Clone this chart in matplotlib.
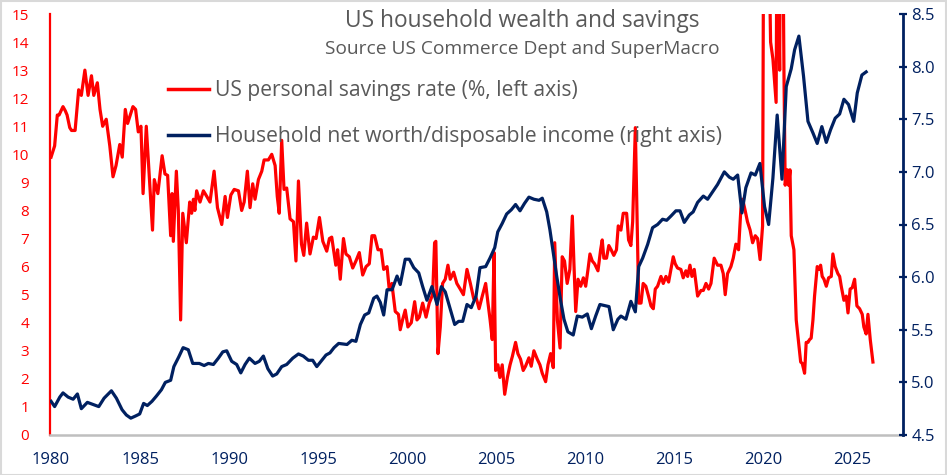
import numpy as np
import matplotlib
matplotlib.use("Agg")
import matplotlib.pyplot as plt
from matplotlib.lines import Line2D
from matplotlib.patches import Rectangle
from matplotlib.ticker import FormatStrFormatter

plt.rcParams['font.family'] = ['Open Sans', 'DejaVu Sans']

# US personal savings rate (%) (decimal years)
savings_years = [
    1980.00, 1980.20, 1980.35, 1980.45, 1980.67, 1980.80, 1980.90, 1981.05, 1981.15, 1981.35,
    1981.55, 1981.70, 1981.90, 1982.08, 1982.27, 1982.40, 1982.60, 1982.75, 1982.90, 1983.10,
    1983.30, 1983.48, 1983.65, 1983.86, 1984.00, 1984.17, 1984.30, 1984.60, 1984.75, 1984.90,
    1985.05, 1985.17, 1985.35, 1985.70, 1985.80, 1986.00, 1986.24, 1986.40, 1986.55, 1986.72,
    1986.80, 1986.87, 1987.04, 1987.15, 1987.28, 1987.40, 1987.60, 1987.79, 1987.90, 1988.00,
    1988.08, 1988.18, 1988.37, 1988.56, 1988.75, 1988.93, 1989.16, 1989.35, 1989.59, 1989.78,
    1989.91, 1990.10, 1990.29, 1990.53, 1990.71, 1990.85, 1991.03, 1991.18, 1991.33, 1991.46,
    1991.65, 1991.84, 1991.97, 1992.21, 1992.40, 1992.59, 1992.71, 1992.82, 1992.96, 1993.09,
    1993.24, 1993.43, 1993.62, 1993.76, 1993.90, 1994.07, 1994.20, 1994.36, 1994.55, 1994.74,
    1994.89, 1995.08, 1995.27, 1995.49, 1995.64, 1995.77, 1996.00, 1996.10, 1996.25, 1996.43,
    1996.57, 1996.76, 1996.95, 1997.13, 1997.32, 1997.51, 1997.70, 1997.88, 1998.03, 1998.18,
    1998.37, 1998.55, 1998.69, 1998.88, 1999.00, 1999.15, 1999.34, 1999.52, 1999.62, 1999.75,
    1999.90, 2000.05, 2000.24, 2000.43, 2000.56, 2000.69, 2000.88, 2001.07, 2001.25, 2001.44,
    2001.55, 2001.62, 2001.74, 2001.87, 2002.00, 2002.15, 2002.30, 2002.43, 2002.62, 2002.80,
    2002.99, 2003.17, 2003.37, 2003.56, 2003.75, 2003.88, 2004.05, 2004.23, 2004.42, 2004.55,
    2004.67, 2004.79, 2004.89, 2004.98, 2005.11, 2005.22, 2005.35, 2005.49, 2005.64, 2005.79,
    2005.92, 2006.10, 2006.23, 2006.38, 2006.53, 2006.66, 2006.85, 2006.98, 2007.13, 2007.32,
    2007.47, 2007.60, 2007.79, 2007.92, 2008.07, 2008.22, 2008.30, 2008.45, 2008.60, 2008.72,
    2008.85, 2009.00, 2009.15, 2009.29, 2009.38, 2009.48, 2009.61, 2009.76, 2009.91, 2010.04,
    2010.17, 2010.28, 2010.41, 2010.54, 2010.73, 2010.88, 2010.97, 2011.06, 2011.21, 2011.34,
    2011.47, 2011.62, 2011.77, 2011.87, 2012.02, 2012.15, 2012.34, 2012.45, 2012.58, 2012.68,
    2012.83, 2012.92, 2013.02, 2013.15, 2013.27, 2013.42, 2013.57, 2013.71, 2013.84, 2013.95,
    2014.08, 2014.27, 2014.40, 2014.55, 2014.70, 2014.83, 2014.96, 2015.07, 2015.20, 2015.39,
    2015.52, 2015.67, 2015.77, 2015.90, 2016.01, 2016.14, 2016.24, 2016.33, 2016.52, 2016.65,
    2016.80, 2016.95, 2017.08, 2017.26, 2017.45, 2017.64, 2017.77, 2017.88, 2018.01, 2018.20,
    2018.33, 2018.48, 2018.63, 2018.76, 2018.86, 2019.00, 2019.13, 2019.28, 2019.42, 2019.57,
    2019.70, 2019.84, 2019.98, 2020.11, 2020.20, 2020.30, 2020.38, 2020.43, 2020.56, 2020.74,
    2020.80, 2020.94, 2021.03, 2021.18, 2021.25, 2021.37, 2021.44, 2021.52, 2021.59, 2021.74,
    2021.87, 2022.00, 2022.12, 2022.21, 2022.34, 2022.43, 2022.53, 2022.62, 2022.71, 2022.81,
    2022.90, 2023.05, 2023.15, 2023.24, 2023.33, 2023.43, 2023.56, 2023.69, 2023.84, 2023.93,
    2024.06, 2024.21, 2024.31, 2024.40, 2024.55, 2024.68, 2024.78, 2024.90, 2025.02, 2025.15,
    2025.28, 2025.43, 2025.58, 2025.67, 2025.80, 2025.90, 2026.03, 2026.18,
]
savings_rate = [
    9.9, 10.3, 11.4, 11.4, 11.7, 11.55, 11.4, 10.95, 10.85, 10.85,
    12.3, 12.1, 13.0, 12.1, 12.8, 12.1, 12.55, 11.6, 11.0, 11.25,
    10.3, 9.2, 9.6, 10.35, 9.9, 11.6, 11.1, 11.7, 11.6, 10.8,
    11.0, 8.6, 11.0, 7.3, 9.1, 8.6, 9.95, 9.3, 9.25, 7.1,
    8.6, 6.9, 9.4, 8.0, 4.1, 7.9, 6.85, 8.3, 7.9, 8.4,
    8.0, 8.7, 8.3, 8.7, 8.5, 8.3, 9.4, 8.1, 7.5, 8.5,
    7.75, 8.55, 8.75, 8.7, 8.0, 8.3, 9.4, 8.1, 8.95, 8.4,
    9.1, 9.4, 9.8, 9.8, 10.0, 9.6, 8.5, 7.9, 10.5, 8.75,
    8.8, 7.7, 7.6, 6.2, 9.05, 6.8, 6.4, 7.55, 6.45, 7.05,
    7.0, 7.75, 6.9, 6.55, 7.0, 7.05, 6.05, 6.6, 5.55, 7.0,
    6.45, 6.35, 5.95, 6.2, 6.5, 5.7, 6.0, 6.1, 7.1, 7.1,
    6.6, 6.6, 5.9, 6.0, 5.2, 5.4, 4.4, 4.3, 3.75, 4.1,
    4.45, 3.85, 4.0, 4.75, 4.1, 4.2, 4.7, 4.2, 4.7, 5.0,
    6.85, 6.9, 2.9, 3.85, 5.4, 5.55, 6.05, 5.55, 5.8, 5.4,
    5.2, 5.0, 5.9, 5.4, 4.85, 4.9, 4.5, 4.95, 5.4, 4.7,
    4.1, 3.4, 6.5, 2.3, 2.5, 2.05, 2.5, 1.45, 2.05, 2.5,
    2.8, 3.3, 2.9, 2.7, 2.3, 2.45, 2.75, 2.45, 3.0, 2.7,
    2.5, 2.2, 1.9, 2.5, 2.9, 2.4, 6.85, 4.1, 3.1, 6.35,
    6.2, 5.4, 5.9, 7.8, 6.1, 4.4, 5.55, 5.3, 5.6, 5.3,
    5.9, 6.45, 6.2, 6.1, 5.85, 6.6, 6.95, 6.3, 6.3, 6.75,
    6.6, 6.4, 6.6, 7.45, 7.3, 7.9, 7.9, 6.95, 6.75, 7.6,
    10.95, 8.0, 4.7, 4.7, 5.4, 5.3, 4.95, 4.6, 4.5, 5.2,
    5.3, 5.65, 5.4, 5.65, 5.45, 5.9, 6.35, 6.1, 5.95, 5.9,
    5.6, 5.85, 5.65, 6.05, 5.65, 5.9, 5.4, 4.95, 5.15, 5.15,
    5.4, 5.2, 5.4, 6.3, 6.05, 6.05, 5.75, 5.0, 5.75, 6.0,
    6.3, 6.8, 6.6, 8.05, 8.4, 8.0, 7.6, 7.3, 6.85, 7.1,
    7.0, 6.25, 7.45, 32.0, 24.0, 18.0, 16.0, 14.0, 13.4, 11.85,
    19.5, 13.0, 26.0, 13.0, 8.9, 9.45, 8.9, 9.45, 7.1, 6.6,
    4.1, 3.3, 2.6, 2.55, 2.2, 3.3, 3.3, 3.4, 3.45, 4.1,
    4.95, 6.0, 5.9, 6.05, 5.65, 5.55, 5.3, 5.6, 5.65, 6.45,
    6.0, 5.75, 5.65, 5.3, 4.8, 4.95, 4.35, 5.2, 5.25, 5.55,
    4.6, 4.5, 4.3, 3.85, 3.6, 4.3, 3.4, 2.6,
]

# Household net worth / disposable income (right axis)
wealth_years = [
    1980.00, 1980.20, 1980.49, 1980.67, 1980.96, 1981.24, 1981.48, 1981.70, 1982.04, 1982.36,
    1982.68, 1982.98, 1983.39, 1983.67, 1983.99, 1984.23, 1984.48, 1984.74, 1984.98, 1985.20,
    1985.41, 1985.67, 1985.92, 1986.20, 1986.42, 1986.72, 1986.90, 1987.17, 1987.42, 1987.71,
    1987.96, 1988.33, 1988.60, 1988.84, 1989.12, 1989.40, 1989.65, 1989.87, 1990.15, 1990.43,
    1990.66, 1990.90, 1991.14, 1991.46, 1991.70, 1991.93, 1992.18, 1992.45, 1992.68, 1992.96,
    1993.24, 1993.58, 1993.90, 1994.17, 1994.46, 1994.70, 1994.93, 1995.21, 1995.45, 1995.67,
    1995.90, 1996.16, 1996.63, 1996.90, 1997.13, 1997.38, 1997.62, 1997.85, 1998.13, 1998.31,
    1998.50, 1998.69, 1998.88, 1999.16, 1999.44, 1999.62, 1999.90, 2000.13, 2000.38, 2000.66,
    2000.88, 2001.12, 2001.40, 2001.69, 2001.93, 2002.15, 2002.44, 2002.68, 2002.90, 2003.13,
    2003.37, 2003.61, 2003.88, 2004.10, 2004.42, 2004.66, 2004.93, 2005.10, 2005.35, 2005.60,
    2005.86, 2006.10, 2006.35, 2006.60, 2006.85, 2007.13, 2007.42, 2007.60, 2007.85, 2008.03,
    2008.22, 2008.41, 2008.63, 2008.82, 2009.04, 2009.34, 2009.57, 2009.85, 2010.13, 2010.36,
    2010.60, 2010.84, 2011.10, 2011.35, 2011.59, 2011.85, 2012.02, 2012.30, 2012.58, 2012.83,
    2013.02, 2013.24, 2013.52, 2013.80, 2014.08, 2014.36, 2014.59, 2014.83, 2015.11, 2015.34,
    2015.58, 2015.86, 2016.08, 2016.33, 2016.65, 2016.89, 2017.17, 2017.45, 2017.83, 2018.11,
    2018.33, 2018.58, 2018.82, 2019.04, 2019.33, 2019.57, 2019.83, 2020.09, 2020.32, 2020.56,
    2020.80, 2021.07, 2021.31, 2021.59, 2021.78, 2022.02, 2022.28, 2022.53, 2022.81, 2023.05,
    2023.31, 2023.56, 2023.80, 2024.06, 2024.31, 2024.55, 2024.81, 2025.10, 2025.30, 2025.56,
    2025.80,
]
wealth_ratio = [
    4.82, 4.77, 4.86, 4.90, 4.86, 4.84, 4.89, 4.75, 4.81, 4.79,
    4.77, 4.85, 4.92, 4.85, 4.74, 4.69, 4.66, 4.68, 4.70, 4.80,
    4.78, 4.82, 4.87, 4.93, 5.00, 5.02, 5.15, 5.24, 5.33, 5.31,
    5.18, 5.18, 5.16, 5.18, 5.17, 5.23, 5.29, 5.30, 5.20, 5.17,
    5.09, 5.17, 5.23, 5.18, 5.20, 5.25, 5.13, 5.06, 5.08, 5.15,
    5.17, 5.23, 5.27, 5.25, 5.21, 5.21, 5.15, 5.21, 5.26, 5.28,
    5.33, 5.37, 5.36, 5.40, 5.39, 5.55, 5.64, 5.66, 5.80, 5.82,
    5.76, 5.64, 5.88, 5.88, 6.01, 5.93, 6.17, 6.17, 6.09, 6.04,
    5.91, 5.78, 5.91, 5.74, 5.91, 5.86, 5.69, 5.55, 5.58, 5.58,
    5.74, 5.71, 5.82, 6.09, 6.10, 6.18, 6.28, 6.43, 6.51, 6.60,
    6.64, 6.69, 6.63, 6.70, 6.76, 6.74, 6.73, 6.75, 6.62, 6.45,
    6.23, 6.01, 5.78, 5.60, 5.48, 5.45, 5.63, 5.62, 5.65, 5.51,
    5.63, 5.74, 5.73, 5.72, 5.50, 5.60, 5.63, 5.60, 5.77, 5.67,
    6.10, 6.18, 6.31, 6.47, 6.50, 6.55, 6.54, 6.58, 6.63, 6.63,
    6.52, 6.59, 6.62, 6.71, 6.77, 6.74, 6.81, 6.88, 7.00, 6.95,
    6.93, 6.97, 6.61, 6.85, 6.99, 6.97, 7.08, 6.67, 6.50, 6.94,
    7.54, 6.93, 7.81, 7.98, 8.16, 8.29, 7.91, 7.48, 7.37, 7.27,
    7.43, 7.28, 7.40, 7.51, 7.55, 7.69, 7.64, 7.48, 7.75, 7.92,
    7.95,
]

x_ticks = [1980, 1985, 1990, 1995, 2000, 2005, 2010, 2015, 2020, 2025]
left_ticks = list(range(0, 16))
right_ticks = [4.5, 5.0, 5.5, 6.0, 6.5, 7.0, 7.5, 8.0, 8.5]

RED = '#FF0000'
NAVY = '#002060'
GREY_TXT = '#595959'

W, H = 947, 475
fig = plt.figure(figsize=(W / 100, H / 100), dpi=100)
ax = fig.add_axes([50 / W, 1 - 435 / H, 853 / W, 421 / H])
ax2 = ax.twinx()

ax.plot(savings_years, savings_rate, color=RED, lw=2.3, solid_joinstyle='round')
ax2.plot(wealth_years, wealth_ratio, color=NAVY, lw=2.3, solid_joinstyle='round')

ax.set_xlim(1979.94, 2027.87)
ax.set_ylim(0, 15)
ax2.set_ylim(4.5, 8.5)

ax.set_xticks(x_ticks)
ax.set_yticks(left_ticks)
ax2.set_yticks(right_ticks)
ax2.yaxis.set_major_formatter(FormatStrFormatter('%.1f'))

for s in ['top', 'right']:
    ax.spines[s].set_visible(False)
ax.spines['left'].set_color(RED)
ax.spines['left'].set_linewidth(1.6)
ax.spines['bottom'].set_color('#BFBFBF')
ax.spines['bottom'].set_linewidth(1.8)
for s in ['top', 'left', 'bottom']:
    ax2.spines[s].set_visible(False)
ax2.spines['right'].set_color(NAVY)
ax2.spines['right'].set_linewidth(2)

ax.tick_params(axis='y', length=0, pad=15, labelcolor=RED, labelsize=11)
ax.tick_params(axis='x', length=0, pad=12, labelcolor=NAVY, labelsize=12)
ax2.tick_params(axis='y', direction='inout', length=6, width=1.6, color=NAVY,
                labelcolor=NAVY, labelsize=12, pad=3)

fig.text(522 / W, 1 - 21 / H, 'US household wealth and savings', ha='center', va='center',
         fontsize=16.4, color=GREY_TXT)
fig.text(522 / W, 1 - 49 / H, 'Source US Commerce Dept and SuperMacro', ha='center', va='center',
         fontsize=13.8, color=GREY_TXT)

handles = [Line2D([], [], color=RED, lw=2.5), Line2D([], [], color=NAVY, lw=2.5)]
labels = ['US personal savings rate (%, left axis)',
          'Household net worth/disposable income (right axis)']
leg = ax.legend(handles, labels, loc='upper left', bbox_to_anchor=(168 / W, 1 - 80 / H),
                bbox_transform=fig.transFigure, frameon=False, fontsize=15.2,
                handlelength=1.95, handletextpad=0.28, labelspacing=1.2,
                borderpad=0, borderaxespad=0)
for t in leg.get_texts():
    t.set_color(GREY_TXT)

fig.patches.append(Rectangle((0.5 / W, 0.5 / H), 1 - 1.5 / W, 1 - 1.5 / H, transform=fig.transFigure,
                             fill=False, edgecolor='#D9D9D9', lw=1.5))

fig.savefig('out.png', dpi=100)
